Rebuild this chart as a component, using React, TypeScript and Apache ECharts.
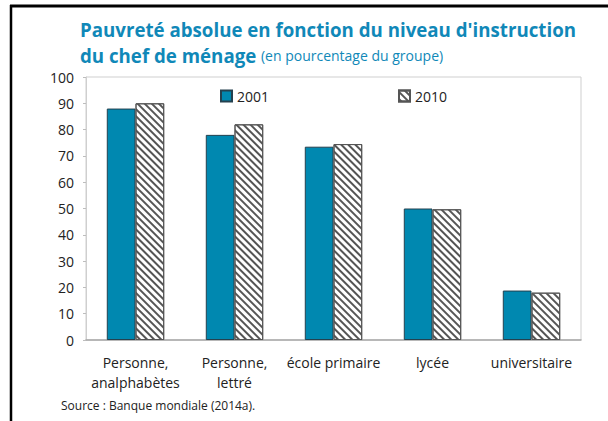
import React, { useEffect, useRef } from "react";
import * as echarts from "echarts";

const categories = ["Personne,\nanalphabètes", "Personne,\nlettré", "école primaire", "lycée", "universitaire"];
const series2001 = [88, 78, 73.5, 50, 18.8];
const series2010 = [90, 82, 74.5, 49.7, 18];
const yTicks = { min: 0, max: 100, interval: 10 };

const FONT = "'Open Sans', sans-serif";
const TITLE_COLOR = "#1088b8";
const BAR_COLOR = "#0088b0";

export default function App() {
  const ref = useRef<HTMLDivElement>(null);
  useEffect(() => {
    document.body.style.margin = "0";
    const chart = echarts.init(ref.current!, null, { renderer: "svg" });
    const hatch = {
      symbol: "rect",
      symbolSize: 1,
      dashArrayX: [1, 0],
      dashArrayY: [1.6, 2.4],
      rotation: Math.PI / 4,
      color: "#555555",
      backgroundColor: "#ffffff",
    };
    chart.setOption({
      animation: false,
      backgroundColor: "#ffffff",
      textStyle: { fontFamily: FONT },
      title: {
        left: 75,
        top: 11,
        text: "{a|Pauvreté absolue en fonction du niveau d'instruction}\n{a|du chef de ménage} {b|(en pourcentage du groupe)}",
        textStyle: {
          rich: {
            a: { fontFamily: FONT, fontWeight: "bold", fontSize: 18.7, color: TITLE_COLOR, lineHeight: 26.5 },
            b: { fontFamily: FONT, fontWeight: "normal", fontSize: 14, color: TITLE_COLOR, lineHeight: 26.5 },
          },
        },
      },
      legend: [
        {
          data: ["2001"],
          left: 215,
          top: 84,
          icon: "rect",
          itemWidth: 11,
          itemHeight: 11,
          itemGap: 3,
          textStyle: { fontFamily: FONT, fontSize: 14, color: "#222", padding: [0, 0, 0, 0] },
        },
        {
          data: ["2010"],
          left: 393,
          top: 84,
          icon: "rect",
          itemWidth: 11,
          itemHeight: 11,
          itemGap: 3,
          textStyle: { fontFamily: FONT, fontSize: 14, color: "#222", padding: [0, 0, 0, 0] },
        },
      ],
      grid: {
        left: 86,
        top: 77,
        right: 27,
        bottom: 81,
        show: true,
        borderColor: "#cfcfcf",
        borderWidth: 1,
      },
      xAxis: {
        type: "category",
        data: categories,
        axisLine: { lineStyle: { color: "#a8a8a8", width: 1.5 } },
        axisTick: { inside: true, length: 4, lineStyle: { color: "#bdbdbd" } },
        axisLabel: { interval: 0, fontFamily: FONT, fontSize: 14, color: "#222", lineHeight: 20, margin: 12 },
      },
      yAxis: {
        type: "value",
        min: yTicks.min,
        max: yTicks.max,
        interval: yTicks.interval,
        splitLine: { show: false },
        axisLine: { show: true, lineStyle: { color: "#cfcfcf" } },
        axisTick: { show: true, length: 3, lineStyle: { color: "#bdbdbd" } },
        axisLabel: { fontFamily: FONT, fontSize: 14, color: "#222", margin: 12 },
      },
      series: [
        {
          name: "2001",
          type: "bar",
          data: series2001,
          barGap: "0%",
          barCategoryGap: "42%",
          itemStyle: { color: BAR_COLOR, borderColor: "#24414f", borderWidth: 1 },
        },
        {
          name: "2010",
          type: "bar",
          data: series2010,
          barGap: "0%",
          barCategoryGap: "42%",
          itemStyle: { color: "#ffffff", borderColor: "#555", borderWidth: 1, decal: hatch },
        },
      ],
      graphic: [
        { type: "line", shape: { x1: 10, y1: 6, x2: 608, y2: 6 }, style: { stroke: "#000", lineWidth: 3 } },
        { type: "line", shape: { x1: 11, y1: 5, x2: 11, y2: 421 }, style: { stroke: "#000", lineWidth: 2.5 } },
        {
          type: "text",
          left: 61,
          top: 399,
          style: { text: "Source : Banque mondiale (2014a).", font: `12px ${FONT}`, fill: "#222" },
        },
      ],
    });
    return () => chart.dispose();
  }, []);
  return <div ref={ref} style={{ width: 608, height: 421 }} />;
}
